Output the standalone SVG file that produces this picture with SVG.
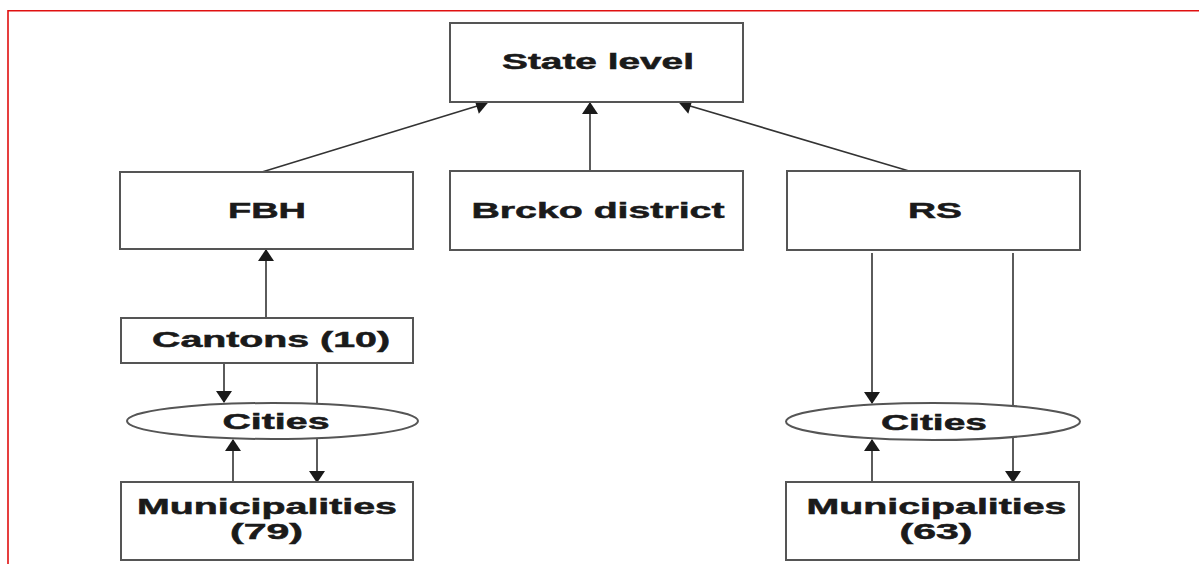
<svg xmlns="http://www.w3.org/2000/svg" width="1199" height="564" viewBox="0 0 1199 564">
<style>
.box{fill:#fff;stroke:#555;stroke-width:2}
.lbl{font-family:"Liberation Sans",Arial,sans-serif;font-weight:bold;font-size:21.5px;fill:#1a1a1a;stroke:#1a1a1a;stroke-width:0.5;text-anchor:middle}
.con{stroke:#333;stroke-width:1.6;fill:none}
.arr{marker-end:url(#ah)}
.frame{stroke:#e01010;stroke-width:1.6;fill:none}
</style>
<defs>
<marker id="ah" markerUnits="userSpaceOnUse" markerWidth="12" markerHeight="16" refX="11" refY="8" orient="auto" overflow="visible">
<path d="M0,0 L12,8 L0,16 z" fill="#1a1a1a"/>
</marker>
</defs>
<rect width="1199" height="564" fill="#fff"/>
<path class="frame" d="M8,564 L8,10.8 L1199,10.8"/>
<g id="connectors">
<line class="con arr" x1="262" y1="172" x2="487" y2="103"/>
<line class="con arr" x1="590" y1="171" x2="590" y2="103"/>
<line class="con arr" x1="909" y1="171" x2="680" y2="103"/>
<line class="con arr" x1="266" y1="318" x2="266" y2="250"/>
<line class="con arr" x1="224" y1="363" x2="224" y2="402"/>
<line class="con arr" x1="317" y1="363" x2="317" y2="482"/>
<line class="con arr" x1="233" y1="482" x2="233" y2="440"/>
<line class="con arr" x1="872" y1="253" x2="872" y2="403"/>
<line class="con arr" x1="1013" y1="253" x2="1013" y2="482"/>
<line class="con arr" x1="872" y1="482" x2="872" y2="440"/>
</g>
<g id="state">
<rect class="box" x="450" y="23" width="293" height="79"/>
<text class="lbl" x="598" y="69" textLength="192" lengthAdjust="spacingAndGlyphs">State level</text>
</g>
<g id="fbh">
<rect class="box" x="120" y="172" width="293" height="77"/>
<text class="lbl" x="267" y="218" textLength="78" lengthAdjust="spacingAndGlyphs">FBH</text>
</g>
<g id="brcko">
<rect class="box" x="450" y="171" width="293" height="79"/>
<text class="lbl" x="598" y="217.5" textLength="253" lengthAdjust="spacingAndGlyphs">Brcko district</text>
</g>
<g id="rs">
<rect class="box" x="787" y="171" width="293" height="79"/>
<text class="lbl" x="935" y="218" textLength="54" lengthAdjust="spacingAndGlyphs">RS</text>
</g>
<g id="cantons">
<rect class="box" x="121" y="318" width="292" height="45"/>
<text class="lbl" x="271" y="346.5" textLength="238" lengthAdjust="spacingAndGlyphs">Cantons (10)</text>
</g>
<g id="cities-left">
<ellipse class="box" cx="272.5" cy="421" rx="145.5" ry="18" stroke-width="1.6"/>
<text class="lbl" x="276" y="429" textLength="107" lengthAdjust="spacingAndGlyphs">Cities</text>
</g>
<g id="municipalities-left">
<rect class="box" x="121" y="482" width="292" height="78"/>
<text class="lbl" x="267" y="514" textLength="260" lengthAdjust="spacingAndGlyphs">Municipalities</text>
<text class="lbl" x="266.5" y="539" textLength="73" lengthAdjust="spacingAndGlyphs">(79)</text>
</g>
<g id="cities-right">
<ellipse class="box" cx="933" cy="421.5" rx="147" ry="18.5" stroke-width="1.6"/>
<text class="lbl" x="934" y="429.5" textLength="106" lengthAdjust="spacingAndGlyphs">Cities</text>
</g>
<g id="municipalities-right">
<rect class="box" x="786" y="482" width="293" height="78"/>
<text class="lbl" x="936.5" y="514" textLength="260" lengthAdjust="spacingAndGlyphs">Municipalities</text>
<text class="lbl" x="936" y="539" textLength="73" lengthAdjust="spacingAndGlyphs">(63)</text>
</g>
</svg>
